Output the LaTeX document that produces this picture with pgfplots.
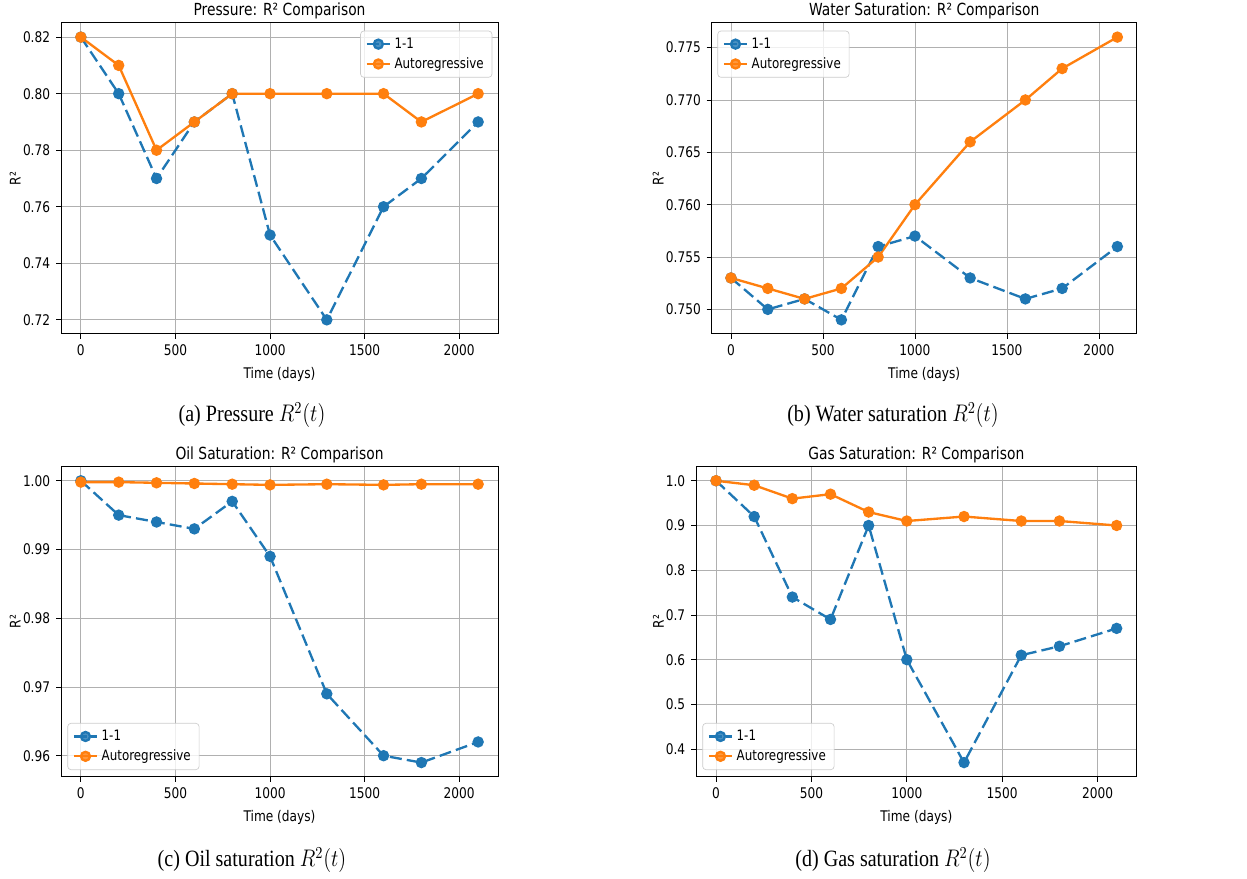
\documentclass[border=0pt]{standalone}
\usepackage{fontspec}
\setmainfont{Liberation Serif}
\newfontfamily\mpl[FakeStretch=0.83]{DejaVu Sans}
\usepackage{graphicx}
\usepackage{pgfplots}
\pgfplotsset{compat=1.18}

\definecolor{c1}{RGB}{31,119,180}
\definecolor{c2}{RGB}{255,127,14}
\definecolor{gridc}{RGB}{176,176,176}
\definecolor{legc}{RGB}{204,204,204}

\pgfplotsset{
  mpl/.style={
    scale only axis,
    xmin=-105, xmax=2205,
    xtick={0,500,1000,1500,2000},
    tick align=outside, xtick pos=bottom, ytick pos=left,
    major tick length=3pt,
    tick style={black, line width=0.5pt},
    axis line style={line width=0.6pt},
    grid=major, grid style={gridc, line width=0.5pt},
    ticklabel style={font=\mpl\fontsize{8.8}{10}\selectfont},
    /pgf/number format/assume math mode=true,
    /pgf/number format/1000 sep={},
    xlabel={Time (days)}, ylabel={R²},
    label style={font=\mpl\fontsize{8.8}{10}\selectfont},
    title style={font=\mpl\fontsize{10}{12}\selectfont, yshift=-7.4pt},
    legend style={font=\mpl\fontsize{8.6}{10}\selectfont, draw=legc,
      rounded corners=2pt, fill=white, fill opacity=0.8, text opacity=1},
    legend cell align=left,
    legend image code/.code={\draw[mark repeat=2,mark phase=2,##1]
      plot coordinates {(0pt,0pt) (7pt,0pt) (14pt,0pt)};},
  },
  ylab/.style={ylabel style={at={(axis description cs:#1,0.5)}, anchor=center}},
  s1/.style={c1, line width=1.4pt, dash pattern=on 7.2pt off 3.1pt,
    mark=*, mark size=2.7pt, mark options={solid}},
  s2/.style={c2, line width=1.4pt, mark=*, mark size=2.7pt},
  ne/.style={legend style={at={(1,1)}, anchor=north east, xshift=-3.4pt, yshift=-4.6pt}},
  nw/.style={legend style={at={(0,1)}, anchor=north west, xshift=3.4pt, yshift=-4.6pt}},
  sw/.style={legend style={at={(0,0)}, anchor=south west, xshift=3.8pt, yshift=4pt}},
}

\begin{document}
\begin{tikzpicture}
\useasboundingbox (0,0) rectangle (748.2pt,526.8pt);

% (a) pressure
\begin{axis}[mpl, ne, ylab=-0.105, at={(36.6pt,326.4pt)}, anchor=south west,
  width=262.2pt, height=186.6pt,
  ymin=0.715, ymax=0.825, ytick={0.72,0.74,0.76,0.78,0.80,0.82},
  yticklabel style={/pgf/number format/.cd, fixed, fixed zerofill, precision=2},
  title={Pressure: R² Comparison}]
\addplot[s1] coordinates {(0,0.82) (200,0.80) (400,0.77) (600,0.79) (800,0.80)
  (1000,0.75) (1300,0.72) (1600,0.76) (1800,0.77) (2100,0.79)};
\addplot[s2] coordinates {(0,0.82) (200,0.81) (400,0.78) (600,0.79) (800,0.80)
  (1000,0.80) (1300,0.80) (1600,0.80) (1800,0.79) (2100,0.80)};
\legend{1-1, Autoregressive}
\end{axis}

% (b) water saturation
\begin{axis}[mpl, nw, ylab=-0.126, at={(427pt,326.4pt)}, anchor=south west,
  width=255pt, height=186.6pt,
  ymin=0.74765, ymax=0.77735, ytick={0.750,0.755,0.760,0.765,0.770,0.775},
  yticklabel style={/pgf/number format/.cd, fixed, fixed zerofill, precision=3},
  title={Water Saturation: R² Comparison}]
\addplot[s1] coordinates {(0,0.753) (200,0.750) (400,0.751) (600,0.749) (800,0.756)
  (1000,0.757) (1300,0.753) (1600,0.751) (1800,0.752) (2100,0.756)};
\addplot[s2] coordinates {(0,0.753) (200,0.752) (400,0.751) (600,0.752) (800,0.755)
  (1000,0.760) (1300,0.766) (1600,0.770) (1800,0.773) (2100,0.776)};
\legend{1-1, Autoregressive}
\end{axis}

% (c) oil saturation
\begin{axis}[mpl, sw, ylab=-0.105, at={(36.6pt,60.8pt)}, anchor=south west,
  width=262.2pt, height=186pt,
  ymin=0.95695, ymax=1.00205, ytick={0.96,0.97,0.98,0.99,1.00},
  yticklabel style={/pgf/number format/.cd, fixed, fixed zerofill, precision=2},
  title={Oil Saturation: R² Comparison}]
\addplot[s1] coordinates {(0,1.000) (200,0.995) (400,0.994) (600,0.993) (800,0.997)
  (1000,0.989) (1300,0.969) (1600,0.960) (1800,0.959) (2100,0.962)};
\addplot[s2] coordinates {(0,0.9998) (200,0.9998) (400,0.9997) (600,0.9996) (800,0.9995)
  (1000,0.9994) (1300,0.9995) (1600,0.9994) (1800,0.9995) (2100,0.9995)};
\legend{1-1, Autoregressive}
\end{axis}

% (d) gas saturation
\begin{axis}[mpl, sw, ylab=-0.0855, at={(417.6pt,60.8pt)}, anchor=south west,
  width=264.4pt, height=186pt,
  ymin=0.3385, ymax=1.0315, ytick={0.4,0.5,0.6,0.7,0.8,0.9,1.0},
  yticklabel style={/pgf/number format/.cd, fixed, fixed zerofill, precision=1},
  title={Gas Saturation: R² Comparison}]
\addplot[s1] coordinates {(0,1.00) (200,0.92) (400,0.74) (600,0.69) (800,0.90)
  (1000,0.60) (1300,0.37) (1600,0.61) (1800,0.63) (2100,0.67)};
\addplot[s2] coordinates {(0,1.00) (200,0.99) (400,0.96) (600,0.97) (800,0.93)
  (1000,0.91) (1300,0.92) (1600,0.91) (1800,0.91) (2100,0.90)};
\legend{1-1, Autoregressive}
\end{axis}

% sub-captions
\node at (151.2pt,277.8pt) {\scalebox{0.86}[1]{\fontsize{14}{16}\selectfont (a) Pressure $R^2(t)$}};
\node at (535.8pt,277.8pt) {\scalebox{0.86}[1]{\fontsize{14}{16}\selectfont (b) Water saturation $R^2(t)$}};
\node at (151.2pt,10.8pt) {\scalebox{0.86}[1]{\fontsize{14}{16}\selectfont (c) Oil saturation $R^2(t)$}};
\node at (535.8pt,10.8pt) {\scalebox{0.86}[1]{\fontsize{14}{16}\selectfont (d) Gas saturation $R^2(t)$}};
\end{tikzpicture}
\end{document}
